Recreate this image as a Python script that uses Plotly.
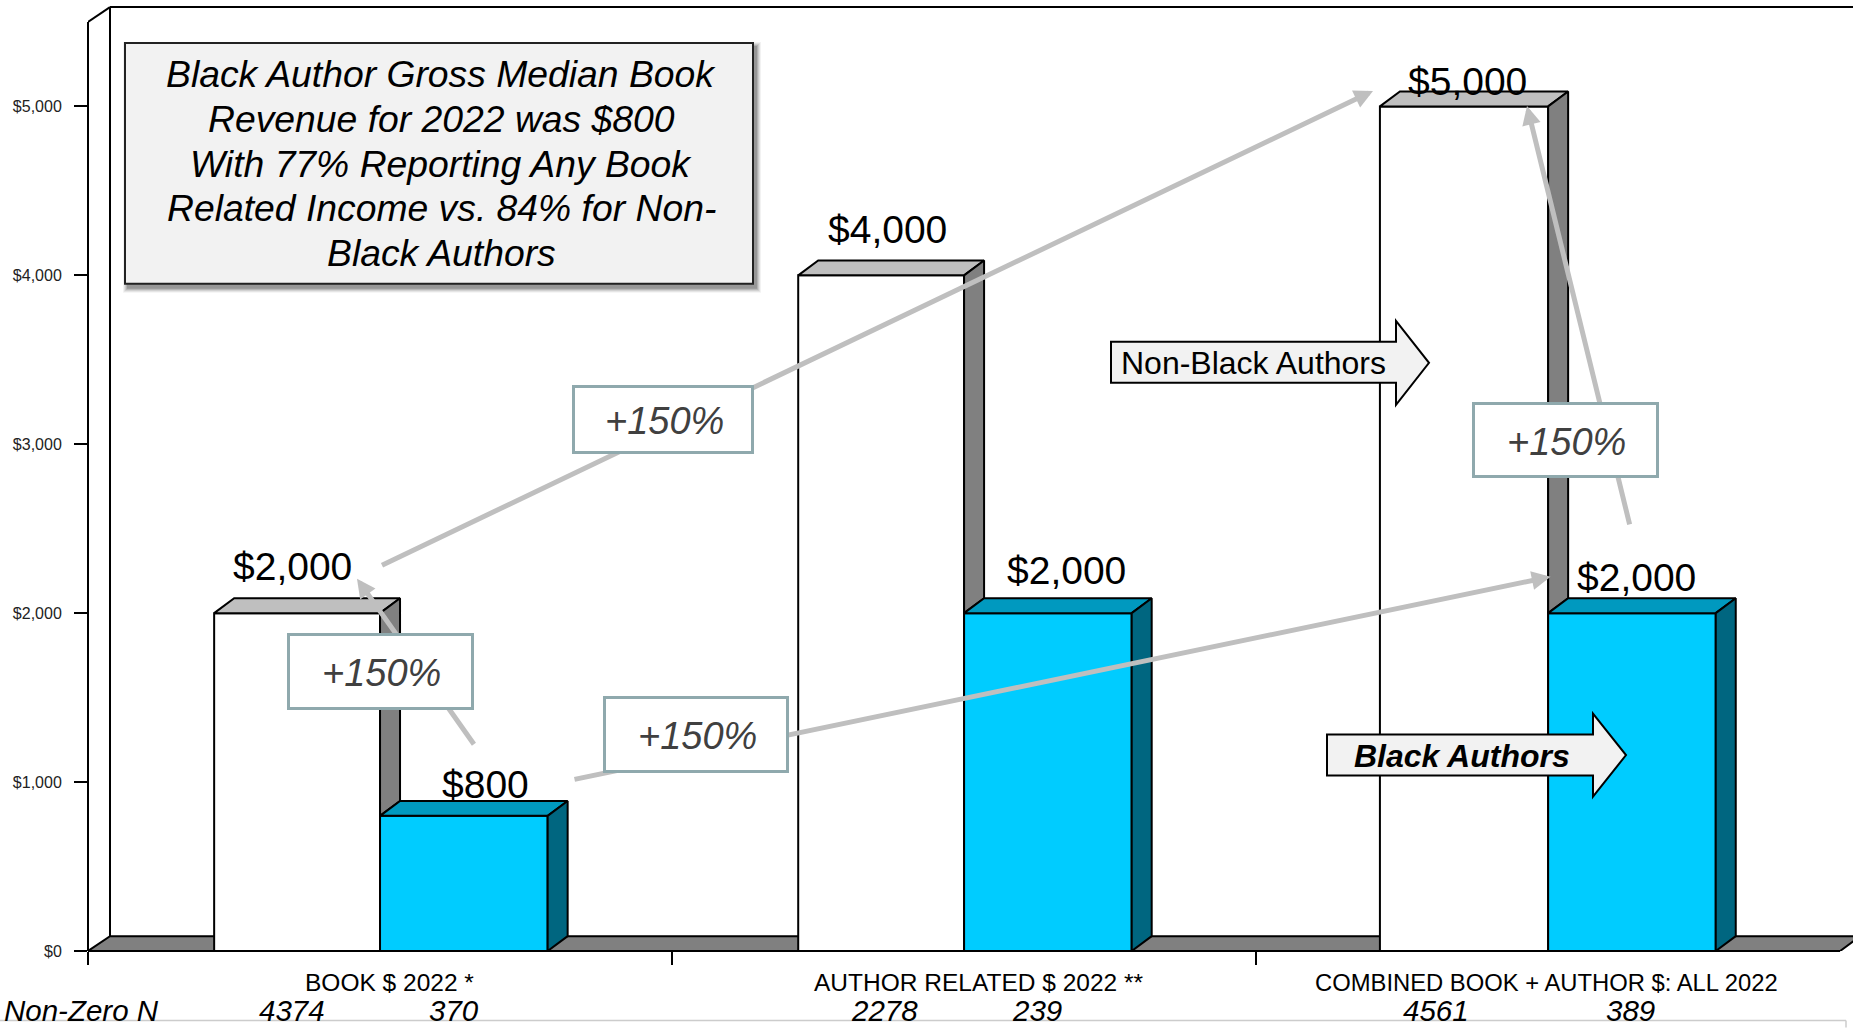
import plotly.graph_objects as go

# ---- data ----
categories = ["BOOK $ 2022 *", "AUTHOR RELATED $ 2022 **", "COMBINED BOOK + AUTHOR $: ALL 2022"]
non_black_values = [2000, 4000, 5000]
black_values = [800, 2000, 2000]
non_black_n = ["4374", "2278", "4561"]
black_n = ["370", "239", "389"]
y_ticks = [0, 1000, 2000, 3000, 4000, 5000]
y_tick_labels = ["$0", "$1,000", "$2,000", "$3,000", "$4,000", "$5,000"]
note_lines = ["Black Author Gross Median Book", "Revenue for 2022 was $800",
              "With 77% Reporting Any Book", "Related Income vs. 84% for Non-", "Black Authors"]
change_label = "+150%"

# ---- layout helpers (page pixels) ----
W, H = 1853, 1028
L, B = 88, 951.5
FONT = "Liberation Sans, Arial, sans-serif"
X_MAX = 2.522
Y_MAX = 5630
BAR_W_A = [0.284, 0.284, 0.288]
BAR_W_B = 0.287
DX = 20 / 584
WALL_DX = 22 / 584
DY = 88


def px(x):
    return (x - L) / (W - L)


def py(y):
    return (B - y) / B


def poly(xs, ys, fill):
    return go.Scatter(x=xs + xs[:1], y=ys + ys[:1], mode="lines", fill="toself", fillcolor=fill,
                      line=dict(color="black", width=2), hoverinfo="skip", showlegend=False)


fig = go.Figure()
xs = list(range(len(categories)))

fig.add_bar(x=xs, y=non_black_values, width=BAR_W_A, offset=[-w for w in BAR_W_A], name="Non-Black Authors",
            marker=dict(color="white", line=dict(color="black", width=2)), cliponaxis=False)
fig.add_bar(x=xs, y=black_values, width=BAR_W_B, offset=0, name="Black Authors",
            marker=dict(color="#00ccff", line=dict(color="black", width=2)), cliponaxis=False)

for x, a, b, wa in zip(xs, non_black_values, black_values, BAR_W_A):
    l, m, r = x - wa, x, x + BAR_W_B
    fig.add_trace(poly([l, l + DX, m + DX, m], [a, a + DY, a + DY, a], "#bfbfbf"))
    fig.add_trace(poly([m, m + DX, m + DX, m], [a, a + DY, b + DY, b], "#808080"))
    fig.add_trace(poly([m, m + DX, r + DX, r], [b, b + DY, b + DY, b], "#0099bf"))
    fig.add_trace(poly([r, r + DX, r + DX, r], [b, b + DY, DY, 0], "#006680"))

shapes = [
    dict(type="path", xref="x", yref="y", layer="below", fillcolor="#808080",
         line=dict(color="black", width=2),
         path=f"M -0.5 0 L {-0.5 + WALL_DX} {DY} L {2.5 + DX} {DY} L 2.5 0 Z"),
    dict(type="line", xref="paper", yref="y", x0=0, x1=0, y0=0, y1=5500, layer="below",
         line=dict(color="black", width=2)),
    dict(type="line", xref="x", yref="y", x0=-0.5, x1=-0.5 + WALL_DX, y0=5500, y1=5500 + DY, layer="below",
         line=dict(color="black", width=2)),
    dict(type="line", xref="x", yref="y", x0=-0.5 + WALL_DX, x1=-0.5 + WALL_DX, y0=DY, y1=5500 + DY, layer="below",
         line=dict(color="black", width=2)),
    dict(type="line", xref="x", yref="y", x0=-0.5 + WALL_DX, x1=X_MAX, y0=5500 + DY, y1=5500 + DY, layer="below",
         line=dict(color="black", width=2)),
    dict(type="line", xref="x", yref="paper", x0=-0.5, x1=2.5, y0=0, y1=0, layer="above",
         line=dict(color="black", width=2)),
    dict(type="line", xref="paper", yref="paper", x0=px(0), x1=px(1846), y0=py(1021), y1=py(1021),
         line=dict(color="#cccccc", width=1.5)),
    dict(type="line", xref="paper", yref="paper", x0=px(1846), x1=px(1846), y0=py(1021), y1=py(1028),
         line=dict(color="#cccccc", width=1.5)),
]


def rect(x0, y0, x1, y1, **kw):
    return dict(type="rect", xref="paper", yref="paper", x0=px(x0), x1=px(x1), y0=py(y0), y1=py(y1), **kw)


for grow, alpha in [(5, 0.05), (4, 0.07), (3, 0.09), (2, 0.12), (1, 0.15)]:
    shapes.append(rect(125 + 3 - grow, 43 + 4 - grow, 753 + 3 + grow, 284 + 4 + grow,
                       fillcolor=f"rgba(0,0,0,{alpha})", line=dict(width=0)))
shapes.append(rect(125, 43, 753, 284, fillcolor="#f2f2f2", line=dict(color="#222222", width=2)))


def block_arrow(left, neck, tip, body_top, body_bot, head_top, head_bot):
    mid = (head_top + head_bot) / 2
    pts = [(left, body_top), (neck, body_top), (neck, head_top), (tip, mid), (neck, head_bot),
           (neck, body_bot), (left, body_bot)]
    path = "M " + " L ".join(f"{px(a)} {py(b)}" for a, b in pts) + " Z"
    return dict(type="path", xref="paper", yref="paper", path=path, fillcolor="#f2f2f2",
                line=dict(color="black", width=2))


shapes.append(block_arrow(1111, 1396, 1429, 342, 383, 321, 405))
shapes.append(block_arrow(1327, 1593, 1626, 735, 776, 714, 797))

ann = []


def text(x, y, s, size, color="black", italic=False, bold=False, anchor="center"):
    if italic:
        s = f"<i>{s}</i>"
    if bold:
        s = f"<b>{s}</b>"
    ann.append(dict(xref="paper", yref="paper", x=px(x), y=py(y), text=s, showarrow=False, xanchor=anchor,
                    yanchor="middle", font=dict(family=FONT, size=size, color=color)))


label_shifts_a = [(-5, 47), (6, 46), (3, 25)]
label_shifts_b = [(22, 31), (19, 43), (5, 36)]
for x, a, b, wa, sa, sb in zip(xs, non_black_values, black_values, BAR_W_A, label_shifts_a, label_shifts_b):
    ann.append(dict(xref="x", yref="y", x=x - wa / 2, y=a, text=f"${a:,}", showarrow=False, yanchor="middle",
                    xshift=sa[0], yshift=sa[1], font=dict(family=FONT, size=39, color="black")))
    ann.append(dict(xref="x", yref="y", x=x + BAR_W_B / 2, y=b, text=f"${b:,}", showarrow=False, yanchor="middle",
                    xshift=sb[0], yshift=sb[1], font=dict(family=FONT, size=39, color="black")))

for tail, head in [((380.5, 566), (1373, 91)), ((475, 746), (357, 579)),
                   ((573, 780), (1550.5, 577)), ((1630, 526), (1527, 106))]:
    ann.append(dict(xref="paper", yref="paper", x=px(head[0]), y=py(head[1]), text="", showarrow=True,
                    ax=tail[0] - head[0], ay=tail[1] - head[1], arrowcolor="#bfbfbf", arrowwidth=5,
                    arrowhead=2, arrowsize=0.75))

for (x0, y0, x1, y1) in [(573, 386, 753, 453), (288, 634, 473, 709), (604, 697, 788, 772), (1473, 403, 1658, 477)]:
    ann.append(dict(xref="paper", yref="paper", x=px((x0 + x1) / 2), y=py((y0 + y1) / 2), xanchor="center",
                    yanchor="middle", text="&nbsp;", showarrow=False, width=x1 - x0 - 4,
                    height=y1 - y0 - 4, bgcolor="white", bordercolor="#8fa9ad", borderwidth=3, borderpad=0,
                    font=dict(family=FONT, size=37, color="#404040")))
    text((x0 + x1) / 2 + 1, (y0 + y1) / 2 + 2, change_label, 38, color="#404040", italic=True)

for y, line in zip([74, 119, 164, 208, 253], note_lines):
    text(441, y, line, 37.3, italic=True)

text(1253, 363, "Non-Black Authors", 32)
text(1462, 756, "Black Authors", 32, italic=True, bold=True)

for cx, c, size in zip([389, 979, 1546], categories, [24.5, 24.5, 23.8]):
    text(cx, 983, c, size)

N_Y = 1011.5
text(2, N_Y, "Non-Zero N", 29.5, italic=True, anchor="left")
for cx, n in zip([292, 884, 1436], non_black_n):
    text(cx, N_Y, n, 29.5, italic=True)
for cx, n in zip([454, 1036.5, 1630], black_n):
    text(cx, N_Y, n, 29.5, italic=True)

fig.update_layout(
    width=W, height=H, margin=dict(l=L, r=0, t=0, b=H - B, pad=0, autoexpand=False),
    plot_bgcolor="white", paper_bgcolor="white", showlegend=False, barmode="overlay",
    shapes=shapes, annotations=ann, font=dict(family=FONT, color="black"),
    xaxis=dict(range=[-0.5, X_MAX], tickmode="array", tickvals=[-0.5, 0.5, 1.5], ticktext=["", "", ""],
               ticks="outside", ticklen=13, tickwidth=2, tickcolor="black", showgrid=False, zeroline=False,
               showline=False, automargin=False),
    yaxis=dict(range=[0, Y_MAX], tickmode="array", tickvals=y_ticks, ticktext=y_tick_labels,
               ticks="outside", ticklen=13, tickwidth=2, tickcolor="black", showgrid=False, zeroline=False,
               showline=False, ticklabelstandoff=9, tickfont=dict(family=FONT, size=16, color="#222222"),
               automargin=False),
)

fig.write_html("out.html", config=dict(displayModeBar=False),
               post_script="document.body.style.margin='0';document.body.style.overflow='hidden';")
